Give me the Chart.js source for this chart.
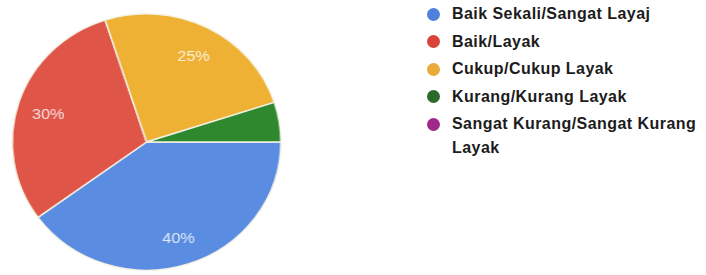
<!DOCTYPE html>
<html>
<head>
<meta charset="utf-8">
<script src="https://cdn.jsdelivr.net/npm/chart.js@4/dist/chart.umd.min.js"></script>
<style>
  html, body { margin: 0; padding: 0; background: #ffffff; }
  #wrap { position: relative; width: 706px; height: 275px; overflow: hidden; }
  #chartBox { position: absolute; left: 0; top: 0; width: 280px; height: 275px;
              transform: scaleX(1.047); transform-origin: 0 0; }
  #legend { position: absolute; left: 427px; top: 2px; width: 279px;
            font-family: "Liberation Sans", Arial, sans-serif; letter-spacing: 0.45px;
            font-size: 16px; color: #1c1c1c; font-weight: bold; }
  .item { position: relative; padding-left: 25px; line-height: 24px; margin-bottom: 3.5px; }
  .dot { position: absolute; left: 0px; top: 5.5px; width: 13px; height: 13px; border-radius: 50%; }
</style>
</head>
<body>
<div id="wrap">
  <div id="chartBox"><canvas id="c"></canvas></div>
  <div id="legend"></div>
</div>
<script>
const categories = ["Baik Sekali/Sangat Layaj", "Baik/Layak", "Cukup/Cukup Layak", "Kurang/Kurang Layak", "Sangat Kurang/Sangat Kurang Layak"];
const values = [40, 30, 25, 5, 0];
const colors = ["#5a8de2", "#df5649", "#eeb134", "#2e882d", "#9e2a8a"];
const legendColors = ["#4f80db", "#d9443a", "#e9ac3a", "#2b6a29", "#a0288a"];

const legend = document.getElementById('legend');
categories.forEach((c, i) => {
  const d = document.createElement('div');
  d.className = 'item';
  d.innerHTML = '<span class="dot" style="background:' + legendColors[i] + '"></span>' + c;
  legend.appendChild(d);
});

const labelPlugin = {
  id: 'sliceLabels',
  afterDatasetsDraw(chart) {
    const ctx = chart.ctx;
    const meta = chart.getDatasetMeta(0);
    const total = values.reduce((a, b) => a + b, 0);
    ctx.save();
    ctx.font = '15.5px "Liberation Sans", Arial, sans-serif';
    ctx.fillStyle = 'rgba(255,255,255,0.82)';
    ctx.textAlign = 'center';
    ctx.textBaseline = 'middle';
    meta.data.forEach((arc, i) => {
      const pct = values[i] / total * 100;
      if (pct < 10) return;
      const mid = (arc.startAngle + arc.endAngle) / 2;
      const r = arc.outerRadius * 0.77;
      ctx.fillText(Math.round(pct) + '%', arc.x + Math.cos(mid) * r, arc.y + Math.sin(mid) * r + 3);
    });
    ctx.restore();
  }
};

new Chart(document.getElementById('c'), {
  type: 'pie',
  data: {
    labels: categories,
    datasets: [{
      data: values,
      backgroundColor: colors,
      borderColor: '#f4f2e4',
      borderWidth: 1.5
    }]
  },
  options: {
    responsive: true,
    maintainAspectRatio: false,
    animation: false,
    rotation: 90,
    layout: { padding: { top: 13, bottom: 4, left: 11, right: 11 } },
    plugins: { legend: { display: false }, tooltip: { enabled: false } }
  },
  plugins: [labelPlugin]
});
</script>
</body>
</html>
